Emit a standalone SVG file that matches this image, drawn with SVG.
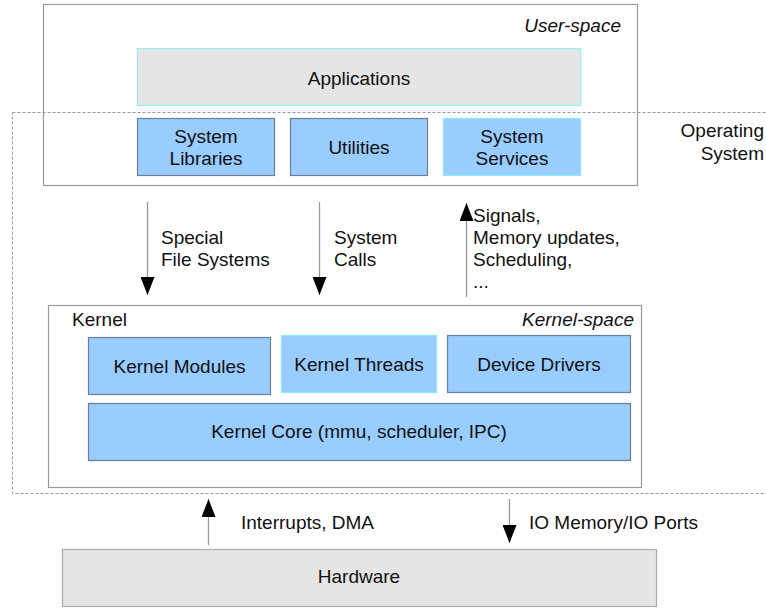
<svg xmlns="http://www.w3.org/2000/svg" width="766" height="611" viewBox="0 0 766 611">
<style>
text{font-family:"Liberation Sans",Arial,sans-serif;font-size:19px;fill:#111}
.c{text-anchor:middle}
.i{font-style:italic}
.outer{fill:none;stroke:#999;stroke-width:1.2}
.blue{fill:#99ccff;stroke:#6b7f99;stroke-width:1.2}
.bluec{fill:#99ccff;stroke:#88eef5;stroke-width:1.2}
.grey{fill:#e5e5e5;stroke:#aaa;stroke-width:1.2}
.app{fill:#e5e5e5;stroke:#99eef0;stroke-width:1.2}
.ln{stroke:#999;stroke-width:1.3;fill:none}
</style>
<defs>
<marker id="ah" markerUnits="userSpaceOnUse" markerWidth="19" markerHeight="14" refX="18" refY="7" orient="auto">
<path d="M0,0 L18,7 L0,14 z" fill="#000"/>
</marker>
</defs>
<rect width="766" height="611" fill="#fff"/>
<g id="os">
<rect x="12.5" y="112.5" width="780" height="381" fill="none" stroke="#999" stroke-width="1" stroke-dasharray="3,2"/>
<text x="764" y="137" text-anchor="end">Operating</text>
<text x="764" y="160" text-anchor="end">System</text>
</g>
<g id="userspace">
<rect class="outer" x="43.5" y="4.5" width="594" height="181"/>
<text class="i" x="621" y="32" text-anchor="end">User-space</text>
</g>
<g id="applications">
<rect class="app" x="137.5" y="48.5" width="443" height="57"/>
<text class="c" x="359" y="85">Applications</text>
</g>
<g id="syslibs">
<rect class="blue" x="137.5" y="118.5" width="137" height="57"/>
<text class="c" x="206" y="143">System</text>
<text class="c" x="206" y="165">Libraries</text>
</g>
<g id="utilities">
<rect class="blue" x="290.5" y="118.5" width="137" height="57"/>
<text class="c" x="359" y="154">Utilities</text>
</g>
<g id="sysservices">
<rect class="bluec" x="443.5" y="118.5" width="137" height="57"/>
<text class="c" x="512" y="143">System</text>
<text class="c" x="512" y="165">Services</text>
</g>
<g id="kernelspace">
<rect class="outer" x="48.5" y="305.5" width="593" height="182"/>
<text x="72" y="326">Kernel</text>
<text class="i" x="634" y="326" text-anchor="end">Kernel-space</text>
</g>
<g id="kmodules">
<rect class="blue" x="88.5" y="337.5" width="182" height="57"/>
<text class="c" x="179.5" y="373">Kernel Modules</text>
</g>
<g id="kthreads">
<rect class="bluec" x="281.5" y="335.5" width="155" height="57"/>
<text class="c" x="359" y="371">Kernel Threads</text>
</g>
<g id="ddrivers">
<rect class="blue" x="447.5" y="335.5" width="183" height="57"/>
<text class="c" x="539" y="371">Device Drivers</text>
</g>
<g id="kcore">
<rect class="blue" x="88.5" y="403.5" width="542" height="57"/>
<text class="c" x="359" y="438">Kernel Core (mmu, scheduler, IPC)</text>
</g>
<g id="hardware">
<rect class="grey" x="62.5" y="549.5" width="594" height="57"/>
<text class="c" x="359" y="583">Hardware</text>
</g>
<g id="connectors">
<line class="ln" x1="147.5" y1="202" x2="147.5" y2="295" marker-end="url(#ah)"/>
<line class="ln" x1="319.5" y1="202" x2="319.5" y2="295" marker-end="url(#ah)"/>
<line class="ln" x1="466.5" y1="297" x2="466.5" y2="203" marker-end="url(#ah)"/>
<line class="ln" x1="208.5" y1="545" x2="208.5" y2="499" marker-end="url(#ah)"/>
<line class="ln" x1="509.5" y1="499" x2="509.5" y2="543" marker-end="url(#ah)"/>
<text x="161" y="244">Special</text>
<text x="161" y="266">File Systems</text>
<text x="334" y="244">System</text>
<text x="334" y="266">Calls</text>
<text x="473" y="222">Signals,</text>
<text x="473" y="244">Memory updates,</text>
<text x="473" y="266">Scheduling,</text>
<text x="473" y="288">...</text>
<text x="241" y="529">Interrupts, DMA</text>
<text x="529" y="529">IO Memory/IO Ports</text>
</g>
</svg>
